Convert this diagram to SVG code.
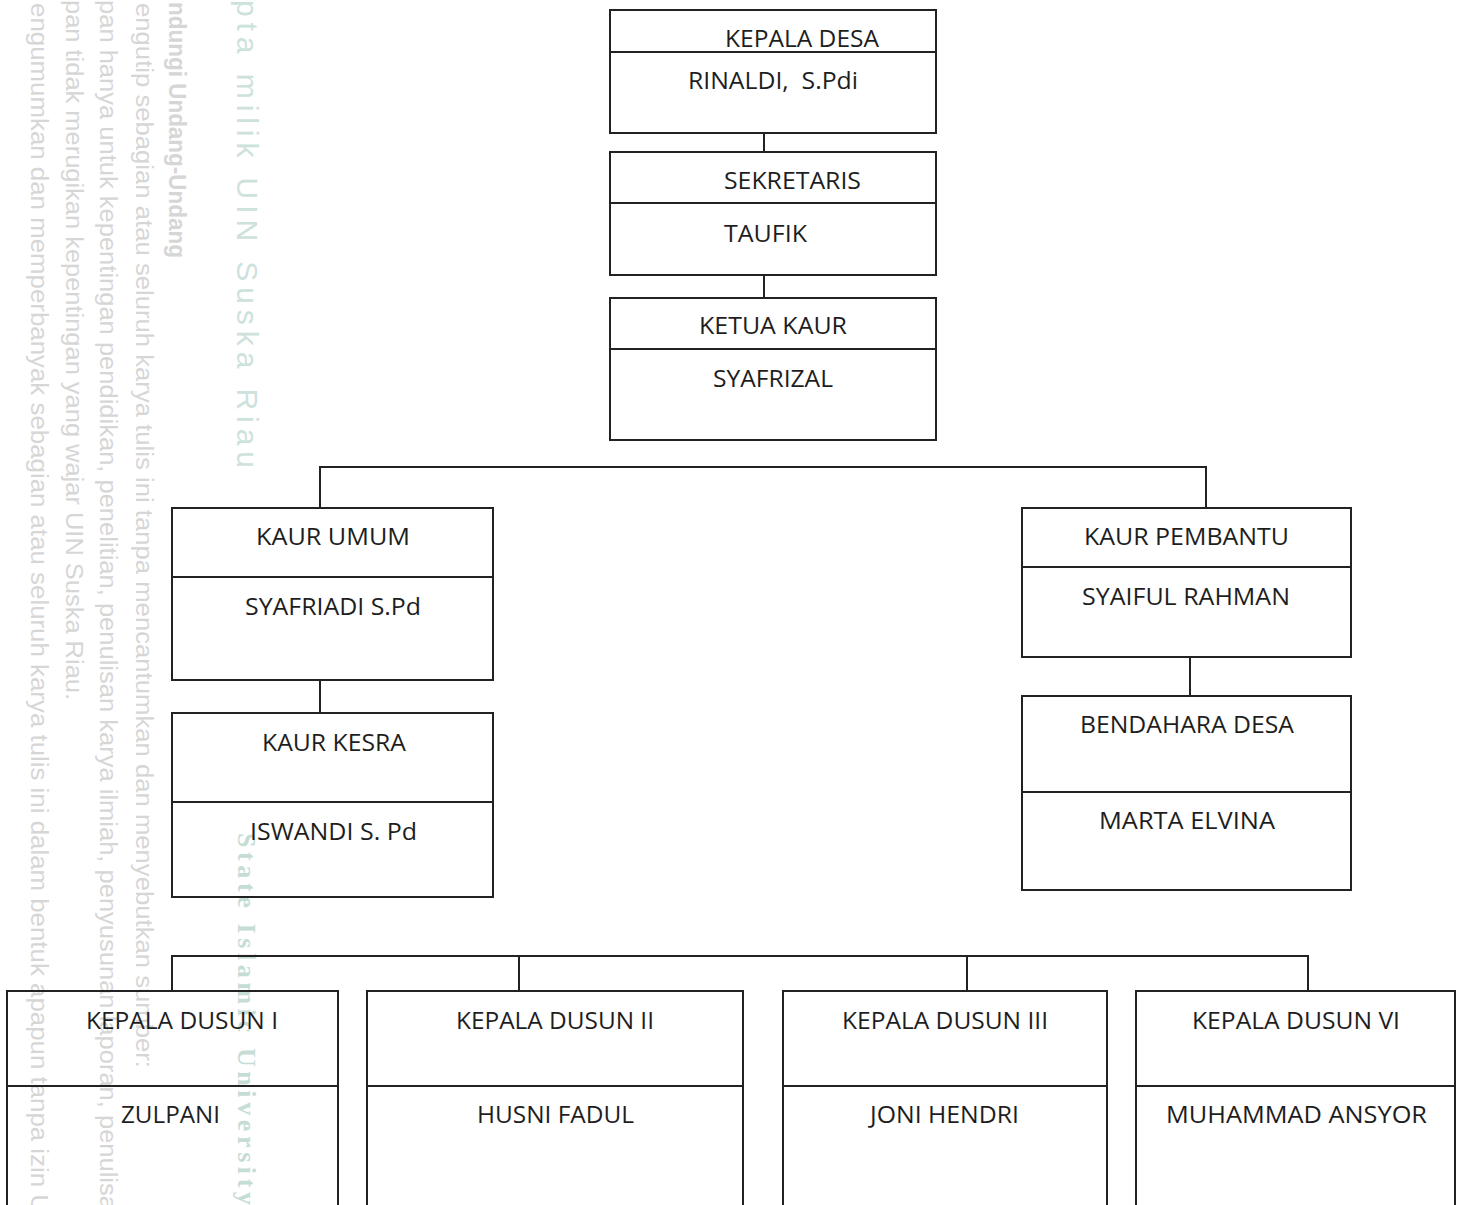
<svg xmlns="http://www.w3.org/2000/svg" width="1462" height="1205" viewBox="0 0 1462 1205">
<style>
.box{fill:none;stroke:#222;stroke-width:2}
.div{stroke:#222;stroke-width:2}
.con{fill:none;stroke:#222;stroke-width:2}
.t{font-family:"Open Sans","Liberation Sans",sans-serif;font-size:23px;fill:#1e1e1e}
.wm{font-family:"Liberation Sans",Arial,sans-serif;font-size:23px;fill:#d6d6d6}
.wmb{font-family:"Liberation Sans",Arial,sans-serif;font-size:23px;font-weight:bold;fill:#d6d6d6}
.wmg{font-family:"Liberation Sans",Arial,sans-serif;font-size:30px;fill:#cde2db}
.wms{font-family:"Liberation Serif","Times New Roman",serif;font-size:26px;font-weight:bold;fill:#c6ddd5}
</style>
<rect width="1462" height="1205" fill="#ffffff"/>
<g id="watermark">
<text class="wm" transform="translate(31,3) rotate(90)" textLength="1210" lengthAdjust="spacingAndGlyphs">engumumkan dan memperbanyak sebagian atau seluruh karya tulis ini dalam bentuk apapun tanpa izin U</text>
<text class="wm" transform="translate(66,0) rotate(90)" textLength="700" lengthAdjust="spacingAndGlyphs">pan tidak merugikan kepentingan yang wajar UIN Suska Riau.</text>
<text class="wm" transform="translate(100,0) rotate(90)" textLength="1210" lengthAdjust="spacingAndGlyphs">pan hanya untuk kepentingan pendidikan, penelitian, penulisan karya ilmiah, penyusunan laporan, penulisa</text>
<text class="wm" transform="translate(136,3) rotate(90)" textLength="1065" lengthAdjust="spacingAndGlyphs">engutip sebagian atau seluruh karya tulis ini tanpa mencantumkan dan menyebutkan sumber:</text>
<text class="wmb" transform="translate(169,2) rotate(90)" textLength="256" lengthAdjust="spacingAndGlyphs">ndungi Undang-Undang</text>
<text class="wmg" transform="translate(237,0) rotate(90)" textLength="468" lengthAdjust="spacing">pta milik UIN Suska Riau</text>
<text class="wms" transform="translate(238,833) rotate(90)" textLength="372" lengthAdjust="spacing">State Islamic University</text>
</g>
<g id="connectors">
<line class="con" x1="764" y1="133" x2="764" y2="152"/>
<line class="con" x1="764" y1="275" x2="764" y2="298"/>
<path class="con" d="M320,508 V467 H1206 V508"/>
<line class="con" x1="320" y1="680" x2="320" y2="713"/>
<line class="con" x1="1190" y1="657" x2="1190" y2="696"/>
<path class="con" d="M172,991 V956 H1308 V991"/>
<line class="con" x1="519" y1="956" x2="519" y2="991"/>
<line class="con" x1="967" y1="956" x2="967" y2="991"/>
</g>
<g id="kepala-desa">
<rect class="box" x="610" y="10" width="326" height="123"/>
<line class="div" x1="610" y1="52" x2="936" y2="52"/>
<text class="t" x="725" y="47" textLength="154" lengthAdjust="spacingAndGlyphs">KEPALA DESA</text>
<text class="t" x="688" y="89" textLength="170" lengthAdjust="spacingAndGlyphs">RINALDI,&#160; S.Pdi</text>
</g>
<g id="sekretaris">
<rect class="box" x="610" y="152" width="326" height="123"/>
<line class="div" x1="610" y1="203" x2="936" y2="203"/>
<text class="t" x="724" y="189" textLength="137" lengthAdjust="spacingAndGlyphs">SEKRETARIS</text>
<text class="t" x="724" y="242" textLength="83" lengthAdjust="spacingAndGlyphs">TAUFIK</text>
</g>
<g id="ketua-kaur">
<rect class="box" x="610" y="298" width="326" height="142"/>
<line class="div" x1="610" y1="349" x2="936" y2="349"/>
<text class="t" x="699" y="334" textLength="148" lengthAdjust="spacingAndGlyphs">KETUA KAUR</text>
<text class="t" x="713" y="387" textLength="120" lengthAdjust="spacingAndGlyphs">SYAFRIZAL</text>
</g>
<g id="kaur-umum">
<rect class="box" x="172" y="508" width="321" height="172"/>
<line class="div" x1="172" y1="577" x2="493" y2="577"/>
<text class="t" x="256" y="545" textLength="154" lengthAdjust="spacingAndGlyphs">KAUR UMUM</text>
<text class="t" x="245" y="615" textLength="176" lengthAdjust="spacingAndGlyphs">SYAFRIADI S.Pd</text>
</g>
<g id="kaur-kesra">
<rect class="box" x="172" y="713" width="321" height="184"/>
<line class="div" x1="172" y1="802" x2="493" y2="802"/>
<text class="t" x="262" y="751" textLength="144" lengthAdjust="spacingAndGlyphs">KAUR KESRA</text>
<text class="t" x="250" y="840" textLength="167" lengthAdjust="spacingAndGlyphs">ISWANDI S. Pd</text>
</g>
<g id="kaur-pembantu">
<rect class="box" x="1022" y="508" width="329" height="149"/>
<line class="div" x1="1022" y1="567" x2="1351" y2="567"/>
<text class="t" x="1084" y="545" textLength="205" lengthAdjust="spacingAndGlyphs">KAUR PEMBANTU</text>
<text class="t" x="1082" y="605" textLength="208" lengthAdjust="spacingAndGlyphs">SYAIFUL RAHMAN</text>
</g>
<g id="bendahara-desa">
<rect class="box" x="1022" y="696" width="329" height="194"/>
<line class="div" x1="1022" y1="792" x2="1351" y2="792"/>
<text class="t" x="1080" y="733" textLength="214" lengthAdjust="spacingAndGlyphs">BENDAHARA DESA</text>
<text class="t" x="1099" y="829" textLength="176" lengthAdjust="spacingAndGlyphs">MARTA ELVINA</text>
</g>
<g id="dusun-1">
<rect class="box" x="7" y="991" width="331" height="230"/>
<line class="div" x1="7" y1="1086" x2="338" y2="1086"/>
<text class="t" x="86" y="1029" textLength="192" lengthAdjust="spacingAndGlyphs">KEPALA DUSUN I</text>
<text class="t" x="121" y="1123" textLength="99" lengthAdjust="spacingAndGlyphs">ZULPANI</text>
</g>
<g id="dusun-2">
<rect class="box" x="367" y="991" width="376" height="230"/>
<line class="div" x1="367" y1="1086" x2="743" y2="1086"/>
<text class="t" x="456" y="1029" textLength="198" lengthAdjust="spacingAndGlyphs">KEPALA DUSUN II</text>
<text class="t" x="477" y="1123" textLength="157" lengthAdjust="spacingAndGlyphs">HUSNI FADUL</text>
</g>
<g id="dusun-3">
<rect class="box" x="783" y="991" width="324" height="230"/>
<line class="div" x1="783" y1="1086" x2="1107" y2="1086"/>
<text class="t" x="842" y="1029" textLength="206" lengthAdjust="spacingAndGlyphs">KEPALA DUSUN III</text>
<text class="t" x="870" y="1123" textLength="149" lengthAdjust="spacingAndGlyphs">JONI HENDRI</text>
</g>
<g id="dusun-4">
<rect class="box" x="1136" y="991" width="319" height="230"/>
<line class="div" x1="1136" y1="1086" x2="1455" y2="1086"/>
<text class="t" x="1192" y="1029" textLength="208" lengthAdjust="spacingAndGlyphs">KEPALA DUSUN VI</text>
<text class="t" x="1166" y="1123" textLength="261" lengthAdjust="spacingAndGlyphs">MUHAMMAD ANSYOR</text>
</g>
</svg>
